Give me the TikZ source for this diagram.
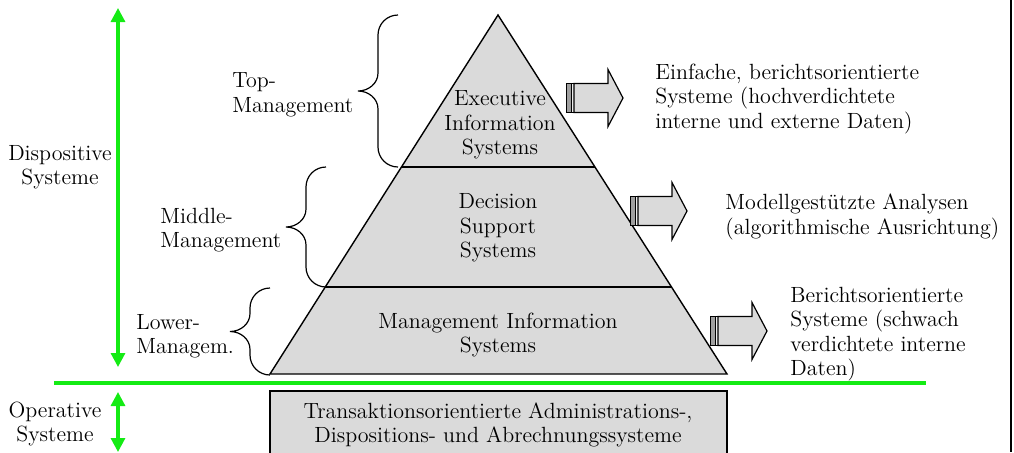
\documentclass[tikz,border=0pt]{standalone}
\usepackage{tikz}
\usetikzlibrary{arrows.meta}
\definecolor{lgreen}{RGB}{20,235,20}
\definecolor{pyrgray}{RGB}{218,218,218}
\newcommand{\mgmtbrace}[3]{% x of the curl ends, top y, bottom y
  \draw[line width=0.6pt] (#1,#2) to[out=180,in=90] (#1-20,#2+20)
    -- (#1-20,{(#2+#3)/2-18}) to[out=-90,in=0] (#1-40,{(#2+#3)/2})
    to[out=0,in=90] (#1-20,{(#2+#3)/2+18})
    -- (#1-20,#3-20) to[out=-90,in=180] (#1,#3);
}
\tikzset{
  txt/.style={inner sep=0pt, font=\fontsize{11}{12.25}\selectfont},
  grn/.style={draw=lgreen, line width=1.6pt},
  grnarr/.style={grn, {Triangle[width=7pt,length=7pt]}-{Triangle[width=7pt,length=7pt]}},
  fatarrow/.pic={
    \draw[line width=0.5pt, fill=gray!75] (0,-14.5) rectangle (5,14.5);
    \draw[line width=0.5pt, fill=gray!15] (5,-14.5) rectangle (8,14.5);
    \draw[line width=0.6pt, fill=pyrgray] (8,-14.5) -- (42,-14.5) -- (42,-28.5) -- (57,0)
      -- (42,28.5) -- (42,14.5) -- (8,14.5) -- cycle;
  }
}
\begin{document}
\begin{tikzpicture}[x=0.5pt,y=-0.5pt]
\useasboundingbox (0,0) rectangle (1014,452);
\clip (0,0) rectangle (1014,452);
\coordinate (T) at (498,15);
\coordinate (L) at (270,374);
\coordinate (R) at (727,374);
\coordinate (L1) at (401,167);
\coordinate (R1) at (595,167);
\coordinate (L2) at (325,287);
\coordinate (R2) at (671,287);
\draw[line width=0.7pt, fill=pyrgray] (T) -- (R) -- (L) -- cycle;
\draw[line width=0.7pt] (L1) -- (R1);
\draw[line width=0.7pt] (L2) -- (R2);
\node[txt, align=center] (eis) at (500,125) {Executive\\Information\\Systems};
\node[txt, align=center] (dss) at (498,228) {Decision\\Support\\Systems};
\node[txt, align=center] (mis) at (498,335) {Management Information\\Systems};
\draw[line width=0.7pt, fill=pyrgray] (270,391) rectangle (727,470);
\node[txt, align=center] (tas) at (498,425) {Transaktionsorientierte Administrations-,\\Dispositions- und Abrechnungssysteme};
\mgmtbrace{398}{15}{167}
\mgmtbrace{326}{167}{287}
\mgmtbrace{270}{288}{375}
\node[txt, align=left, anchor=west] (top) at (232,95) {Top-\\Management};
\node[txt, align=left, anchor=west] (mid) at (160,230) {Middle-\\Management};
\node[txt, align=left, anchor=west] (low) at (136,336) {Lower-\\Managem.};
\coordinate (g1) at (54,383);
\coordinate (g2) at (926,383);
\draw[grn] (g1) -- (g2);
\coordinate (d1) at (118,8);
\coordinate (d2) at (118,367);
\coordinate (o1) at (118,392);
\coordinate (o2) at (118,452);
\draw[grnarr] (d1) -- (d2);
\draw[grnarr] (o1) -- (o2);
\node[txt, align=center] (disp) at (60,167) {Dispositive\\Systeme};
\node[txt, align=center] (oper) at (55,424) {Operative\\Systeme};
\pic at (566,98) {fatarrow};
\pic at (630,211) {fatarrow};
\pic at (710,331) {fatarrow};
\node[txt, align=left, anchor=west] (r1) at (655,99) {Einfache, berichtsorientierte\\Systeme (hochverdichtete\\interne und externe Daten)};
\node[txt, align=left, anchor=west] (r2) at (725,217) {Modellgestützte Analysen\\(algorithmische Ausrichtung)};
\node[txt, align=left, anchor=west] (r3) at (790,334) {Berichtsorientierte\\Systeme (schwach\\verdichtete interne\\Daten)};
\draw[line width=1pt] (1011,0) -- (1011,452);
\end{tikzpicture}
\end{document}
